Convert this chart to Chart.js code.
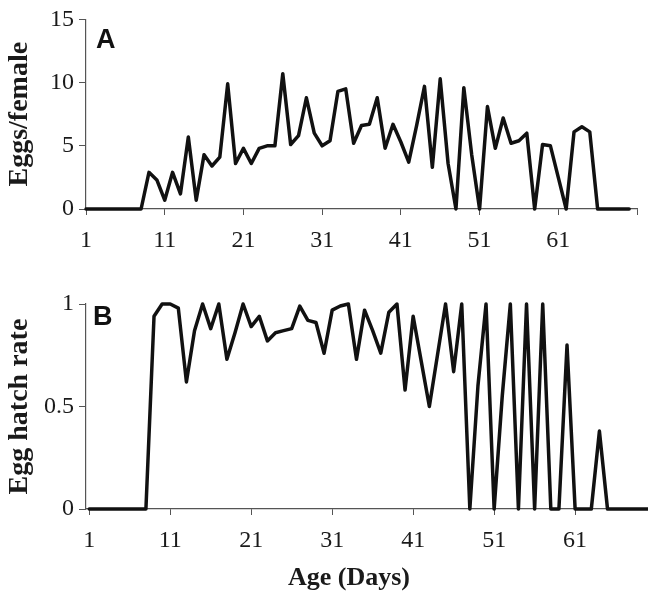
<!DOCTYPE html>
<html>
<head>
<meta charset="utf-8">
<script src="https://cdn.jsdelivr.net/npm/chart.js@4"></script>
<style>
  html, body { margin: 0; padding: 0; background: #fff; }
  #wrap { position: relative; width: 648px; height: 592px; }
  #wrap canvas { position: absolute; left: 0; }
  #xtitle {
    position: absolute; top: 562px; left: 0; width: 698px;
    text-align: center; font: bold 26px "Liberation Serif"; color: #1a1a1a;
  }
</style>
</head>
<body>
<div id="wrap">
  <canvas id="chart-eggs" width="648" height="260" style="top:0"></canvas>
  <canvas id="chart-hatch" width="648" height="332" style="top:260px"></canvas>
  <div id="xtitle">Age (Days)</div>
</div>
<script>
const days = [1, 2, 3, 4, 5, 6, 7, 8, 9, 10,
  11, 12, 13, 14, 15, 16, 17, 18, 19, 20,
  21, 22, 23, 24, 25, 26, 27, 28, 29, 30,
  31, 32, 33, 34, 35, 36, 37, 38, 39, 40,
  41, 42, 43, 44, 45, 46, 47, 48, 49, 50,
  51, 52, 53, 54, 55, 56, 57, 58, 59, 60,
  61, 62, 63, 64, 65, 66, 67, 68, 69, 70];

const eggsPerFemale = [0, 0, 0, 0, 0, 0, 0, 0, 2.9, 2.3,
  0.7, 2.9, 1.2, 5.7, 0.7, 4.3, 3.4, 4.1, 9.9, 3.6,
  4.8, 3.6, 4.8, 5.0, 5.0, 10.7, 5.1, 5.8, 8.8, 6.0,
  5.0, 5.4, 9.3, 9.5, 5.2, 6.6, 6.7, 8.8, 4.8, 6.7,
  5.3, 3.7, 6.6, 9.7, 3.3, 10.3, 3.6, 0, 9.6, 4.3,
  0, 8.1, 4.8, 7.2, 5.2, 5.4, 6.0, 0, 5.1, 5.0,
  2.5, 0, 6.1, 6.5, 6.1, 0, 0, 0, 0, 0];

const hatchRate = [0, 0, 0, 0, 0, 0, 0, 0, 0.94, 1.0,
  1.0, 0.98, 0.62, 0.87, 1.0, 0.88, 1.0, 0.73, 0.86, 1.0,
  0.89, 0.94, 0.82, 0.86, 0.87, 0.88, 0.99, 0.92, 0.91, 0.76,
  0.97, 0.99, 1.0, 0.73, 0.97, 0.87, 0.76, 0.96, 1.0, 0.58,
  0.94, 0.72, 0.50, 0.75, 1.0, 0.67, 1.0, 0, 0.6, 1.0,
  0, 0.55, 1.0, 0, 1.0, 0, 1.0, 0, 0, 0.8,
  0, 0, 0, 0.38, 0, 0, 0, 0, 0, 0];

const dayTicks = [1, 11, 21, 31, 41, 51, 61];
const eggTicks = [0, 5, 10, 15];
const hatchTicks = [0, 0.5, 1];

const serif = "Liberation Serif";
const axisColor = "#555";
const textColor = "#1a1a1a";

function points(values) {
  return days.map((d, i) => ({ x: d, y: values[i] }));
}

// big panel letter (A / B) next to the y axis
function panelLetter(letter, x, y) {
  return {
    id: "letter" + letter,
    afterDraw(chart) {
      const ctx = chart.ctx;
      ctx.save();
      ctx.font = 'bold 27px "Liberation Sans"';
      ctx.fillStyle = "#111";
      ctx.textBaseline = "alphabetic";
      ctx.fillText(letter, x, y);
      ctx.restore();
    }
  };
}

function makeChart(id, values, opts) {
  return new Chart(document.getElementById(id), {
    type: "line",
    data: {
      datasets: [{
        data: points(values),
        borderColor: "#111",
        borderWidth: 3.5,
        pointRadius: 0,
        tension: 0,
        clip: false,
        borderJoinStyle: "round",
        borderCapStyle: "round"
      }]
    },
    options: {
      responsive: false,
      animation: false,
      layout: { padding: { top: opts.top, right: opts.right, left: 0, bottom: 0 } },
      plugins: { legend: { display: false }, tooltip: { enabled: false } },
      scales: {
        x: {
          type: "linear",
          min: opts.xMin,
          max: opts.xMax,
          afterBuildTicks: s => { s.ticks = opts.xTicks.map(v => ({ value: v })); },
          afterFit: s => { s.height = opts.xHeight; },
          grid: { drawOnChartArea: false, drawTicks: true, tickLength: 6, color: axisColor, lineWidth: 1 },
          border: { color: axisColor, width: 1.2 },
          ticks: {
            maxRotation: 0,
            padding: 11,
            color: textColor,
            font: { family: serif, size: 24 },
            callback: v => dayTicks.includes(v) ? String(v) : ""
          }
        },
        y: {
          min: opts.yMin,
          max: opts.yMax,
          afterBuildTicks: s => { s.ticks = opts.yTicks.map(v => ({ value: v })); },
          afterFit: s => { s.width = 86; },
          grid: { drawOnChartArea: false, drawTicks: true, tickLength: 7, color: axisColor, lineWidth: 1 },
          border: { color: axisColor, width: 1.2 },
          ticks: {
            padding: 5,
            color: textColor,
            font: { family: serif, size: 24 },
            callback: v => String(v)
          },
          title: {
            display: true,
            text: opts.yTitle,
            color: textColor,
            font: { family: serif, size: 28, weight: "bold" },
            padding: { top: 3, bottom: 0 }
          }
        }
      }
    },
    plugins: [panelLetter(opts.letter, opts.letterX, opts.letterY)]
  });
}

makeChart("chart-eggs", eggsPerFemale, {
  top: 19, right: 2, xMin: 1, xMax: 71, xHeight: 51,
  xTicks: [...dayTicks, 71],
  yMin: 0, yMax: 15, yTicks: eggTicks, yTitle: "Eggs/female",
  letter: "A", letterX: 96, letterY: 48
});

makeChart("chart-hatch", hatchRate, {
  top: 44, right: 0, xMin: 0.6, xMax: 70, xHeight: 83,
  xTicks: dayTicks,
  yMin: 0, yMax: 1, yTicks: hatchTicks, yTitle: "Egg hatch rate",
  letter: "B", letterX: 93, letterY: 65
});
</script>
</body>
</html>
